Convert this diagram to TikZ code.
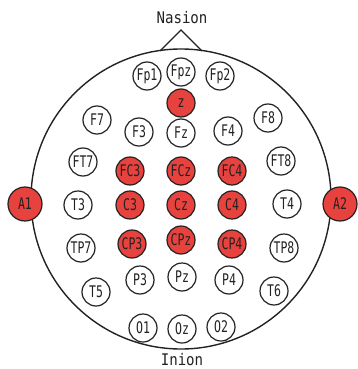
\documentclass[tikz,border=0pt]{standalone}
\usepackage{fontspec}
\newfontfamily\elecfont[FakeStretch=0.72]{DejaVu Sans Mono}
\newfontfamily\landfont[FakeStretch=0.88]{DejaVu Sans Mono}
\definecolor{ink}{RGB}{34,34,34}
\definecolor{active}{RGB}{232,66,62}
\tikzset{
  elec/.style={circle, draw=ink, line width=1.2pt, fill=white, minimum size=28pt,
    inner sep=0pt, text=ink, font=\elecfont\fontsize{16}{17}\selectfont},
  hot/.style={elec, fill=active},
  ear/.style={hot, minimum size=34pt},
  landmark/.style={text=ink, font=\landfont\fontsize{16}{17}\selectfont, inner sep=0pt},
  outline/.style={draw=ink, line width=1.4pt}
}
\begin{document}
\begin{tikzpicture}[x=1pt, y=-1pt]
\useasboundingbox (0,0) rectangle (357,369);
% head outline and nose
\coordinate (head) at (181,199);
\draw[outline] (head) circle[radius=150pt];
\coordinate (noseL) at (160,51);
\coordinate (noseTip) at (181,30);
\coordinate (noseR) at (202,51);
\draw[outline, line join=miter] (noseL) -- (noseTip) -- (noseR);
\node[landmark] (nasion) at (182,18) {Nasion};
\node[landmark] (inion) at (182,360) {Inion};
% frontal pole row
\node[elec] (Fp1) at (147,76) {Fp1};
\node[elec] (Fpz) at (181,72) {Fpz};
\node[elec] (Fp2) at (220,76) {Fp2};
\node[hot]  (Z)   at (181,103) {z};
% frontal row
\node[elec] (F7) at (97,120) {F7};
\node[elec] (F3) at (139,132) {F3};
\node[elec] (Fz) at (181,133) {Fz};
\node[elec] (F4) at (228,131) {F4};
\node[elec] (F8) at (268,118) {F8};
% fronto-central row
\node[elec] (FT7) at (83,162) {FT7};
\node[hot]  (FC3) at (130,171) {FC3};
\node[hot]  (FCz) at (181,171) {FCz};
\node[hot]  (FC4) at (232,171) {FC4};
\node[elec] (FT8) at (281,161) {FT8};
% central row
\node[ear]  (A1) at (25,204) {A1};
\node[elec] (T3) at (78,205) {T3};
\node[hot]  (C3) at (130,205) {C3};
\node[hot]  (Cz) at (181,205) {Cz};
\node[hot]  (C4) at (232,205) {C4};
\node[elec] (T4) at (287,204) {T4};
\node[ear]  (A2) at (340,204) {A2};
% centro-parietal row
\node[elec] (TP7) at (81,248) {TP7};
\node[hot]  (CP3) at (132,244) {CP3};
\node[hot]  (CPz) at (181,240) {CPz};
\node[hot]  (CP4) at (232,244) {CP4};
\node[elec] (TP8) at (284,248) {TP8};
% parietal row
\node[elec] (T5) at (96,292) {T5};
\node[elec] (P3) at (140,280) {P3};
\node[elec] (Pz) at (182,277) {Pz};
\node[elec] (P4) at (229,280) {P4};
\node[elec] (T6) at (274,291) {T6};
% occipital row
\node[elec] (O1) at (143,328) {O1};
\node[elec] (Oz) at (182,329) {Oz};
\node[elec] (O2) at (221,327) {O2};
\end{tikzpicture}
\end{document}
